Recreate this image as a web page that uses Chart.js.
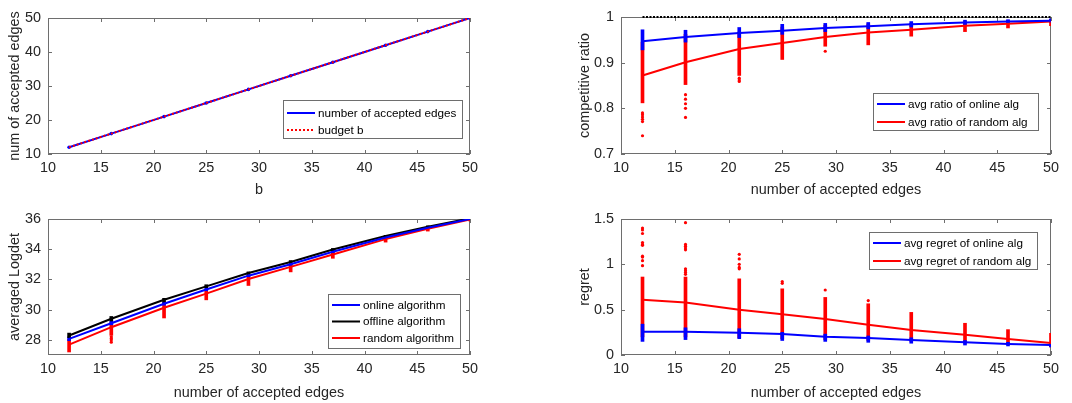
<!DOCTYPE html>
<html>
<head>
<meta charset="utf-8">
<script src="https://cdn.jsdelivr.net/npm/chart.js@4.4.0/dist/chart.umd.min.js"></script>
<style>
html, body { margin: 0; padding: 0; background: #fff; }
#wrap { position: relative; width: 1072px; height: 403px; overflow: hidden; }
canvas { position: absolute; }
</style>
</head>
<body>
<div id="wrap">
  <canvas id="c1" width="540" height="200" style="left:0;top:0"></canvas>
  <canvas id="c2" width="532" height="200" style="left:540px;top:0"></canvas>
  <canvas id="c3" width="540" height="203" style="left:0;top:200px"></canvas>
  <canvas id="c4" width="532" height="203" style="left:540px;top:200px"></canvas>
</div>
<script>
// x values shared by all four panels
var edgeCounts = [12, 16, 21, 25, 29, 33, 37, 42, 46, 50];

// panel 1: accepted edges vs budget
var budgetB = [12, 16, 21, 25, 29, 33, 37, 42, 46, 50];
var acceptedEdges = [12, 16, 21, 25, 29, 33, 37, 42, 46, 50];

// panel 2: competitive ratio
var ratioOffline = [1, 1, 1, 1, 1, 1, 1, 1, 1, 1];
var ratioOnline = [0.947, 0.956, 0.965, 0.970, 0.976, 0.980, 0.984, 0.988, 0.990, 0.992];
var ratioRandom = [0.872, 0.901, 0.930, 0.943, 0.956, 0.966, 0.972, 0.981, 0.985, 0.990];
var ratioOnlineSpread = [[0.928, 0.972], [0.945, 0.971], [0.955, 0.977], [0.962, 0.984], [0.968, 0.986],
  [0.974, 0.988], [0.978, 0.990], [0.983, 0.993], [0.986, 0.994], [0.988, 0.996]];
var ratioRandomSpread = [[0.812, 0.945], [0.852, 0.962], [0.872, 0.967], [0.907, 0.978], [0.936, 0.982],
  [0.939, 0.985], [0.958, 0.986], [0.968, 0.990], [0.976, 0.993], [0.981, 0.995]];
var ratioRandomOutliers = [[12, 0.790], [12, 0.786], [12, 0.781], [12, 0.776], [12, 0.771], [12, 0.740],
  [16, 0.830], [16, 0.820], [16, 0.810], [16, 0.800], [16, 0.780],
  [21, 0.866], [21, 0.862], [21, 0.859], [29, 0.925]];

// panel 3: averaged logdet
var logdetOnline = [28.07, 29.10, 30.39, 31.33, 32.25, 33.00, 33.83, 34.77, 35.42, 36.00];
var logdetOffline = [28.29, 29.40, 30.66, 31.54, 32.43, 33.16, 33.98, 34.87, 35.49, 36.04];
var logdetRandom = [27.69, 28.84, 30.13, 31.06, 32.03, 32.83, 33.65, 34.67, 35.36, 35.97];
var logdetOfflineSpread = [[28.15, 28.45], [29.25, 29.55], [30.50, 30.75], [31.45, 31.65], [32.35, 32.50],
  [33.10, 33.25], [33.90, 34.05], [34.80, 34.92], [35.45, 35.55], [36.00, 36.10]];
var logdetOnlineSpread = [[27.95, 28.20], [29.00, 29.25], [30.30, 30.50], [31.25, 31.42], [32.18, 32.33],
  [32.93, 33.08], [33.77, 33.90], [34.72, 34.82], [35.38, 35.47], [35.97, 36.03]];
var logdetRandomSpread = [[27.20, 28.05], [28.30, 29.15], [29.45, 30.45], [30.65, 31.30], [31.60, 32.25],
  [32.50, 33.00], [33.40, 33.85], [34.47, 34.80], [35.20, 35.45], [35.88, 36.02]];
var logdetRandomOutliers = [[16, 28.20], [16, 28.10], [16, 28.00], [16, 27.85]];

// panel 4: regret
var regretOnline = [0.257, 0.257, 0.246, 0.231, 0.200, 0.187, 0.165, 0.140, 0.121, 0.110];
var regretRandom = [0.610, 0.580, 0.500, 0.450, 0.397, 0.334, 0.276, 0.224, 0.176, 0.132];
var regretOnlineSpread = [[0.15, 0.34], [0.17, 0.30], [0.18, 0.29], [0.16, 0.25], [0.15, 0.23],
  [0.14, 0.21], [0.13, 0.19], [0.11, 0.16], [0.10, 0.14], [0.09, 0.13]];
var regretRandomSpread = [[0.20, 0.86], [0.20, 0.86], [0.19, 0.84], [0.18, 0.73], [0.17, 0.635],
  [0.16, 0.565], [0.15, 0.47], [0.13, 0.35], [0.12, 0.28], [0.09, 0.24]];
var regretRandomOutliers = [[12, 0.985], [12, 1.04], [12, 1.08], [12, 1.09], [12, 1.21], [12, 1.22],
  [12, 1.24], [12, 1.34], [12, 1.38], [12, 1.40],
  [16, 0.89], [16, 0.91], [16, 0.93], [16, 0.95], [16, 1.16], [16, 1.18], [16, 1.20], [16, 1.22], [16, 1.46],
  [21, 0.95], [21, 0.966], [21, 1.00], [21, 1.06], [21, 1.11],
  [25, 0.79], [25, 0.81], [29, 0.717], [33, 0.60]];

// tick labels
var xTicks = [10, 15, 20, 25, 30, 35, 40, 45, 50];
var yTicksAccepted = [10, 20, 30, 40, 50];
var yTicksRatio = [0.7, 0.8, 0.9, 1];
var yTicksLogdet = [28, 30, 32, 34, 36];
var yTicksRegret = [0, 0.5, 1, 1.5];

var FONT = '"Liberation Sans", Arial, Helvetica, sans-serif';
var TXT = '#262626';
var AXIS = '#6e6e6e';

function pts(xs, ys) {
  return xs.map(function (x, i) { return {x: x, y: ys[i]}; });
}
function lineSet(label, ys, color, order, extra) {
  var d = {label: label, data: pts(edgeCounts, ys), showLine: true, borderColor: color,
    backgroundColor: color, borderWidth: 2, pointRadius: 0, order: order};
  return Object.assign(d, extra || {});
}
function spreadSet(ranges, color, order) {
  return {type: 'bar', data: pts(edgeCounts, ranges), backgroundColor: color, borderWidth: 0,
    barThickness: 3, grouped: false, order: order};
}
function dotSet(pairs, color, order) {
  return {type: 'scatter', data: pairs.map(function (p) { return {x: p[0], y: p[1]}; }),
    pointRadius: 1.6, pointBorderWidth: 0, pointBackgroundColor: color, showLine: false, order: order};
}

// box + inward ticks like matlab
var frame = {
  id: 'frame',
  beforeDatasetsDraw: function (chart) {
    var ctx = chart.ctx, a = chart.chartArea, x = chart.scales.x, y = chart.scales.y;
    ctx.save();
    ctx.strokeStyle = AXIS;
    ctx.lineWidth = 1;
    ctx.strokeRect(Math.round(a.left) + 0.5, Math.round(a.top) + 0.5,
      Math.round(a.right - a.left) - 1, Math.round(a.bottom - a.top) - 1);
    ctx.beginPath();
    x.ticks.forEach(function (t) {
      var px = Math.round(x.getPixelForValue(t.value)) + 0.5;
      ctx.moveTo(px, a.bottom); ctx.lineTo(px, a.bottom - 4);
      ctx.moveTo(px, a.top); ctx.lineTo(px, a.top + 4);
    });
    y.ticks.forEach(function (t) {
      var py = Math.round(y.getPixelForValue(t.value)) + 0.5;
      ctx.moveTo(a.left, py); ctx.lineTo(a.left + 4, py);
      ctx.moveTo(a.right, py); ctx.lineTo(a.right - 4, py);
    });
    ctx.stroke();
    ctx.restore();
  }
};

// legend box inside the axes
var boxLegend = {
  id: 'boxLegend',
  afterDraw: function (chart, args, o) {
    var ctx = chart.ctx;
    var items = chart.data.datasets.filter(function (d) { return d.label; });
    ctx.save();
    ctx.fillStyle = '#fff';
    ctx.fillRect(o.left, o.top, o.width, o.height);
    ctx.strokeStyle = AXIS;
    ctx.lineWidth = 1;
    ctx.strokeRect(o.left + 0.5, o.top + 0.5, o.width, o.height);
    ctx.font = '11.7px ' + FONT;
    ctx.textBaseline = 'middle';
    items.forEach(function (d, i) {
      var yy = o.top + o.firstRow + i * o.rowGap;
      ctx.strokeStyle = d.borderColor;
      ctx.lineWidth = 2;
      ctx.setLineDash(d.borderDash || []);
      ctx.beginPath();
      ctx.moveTo(o.left + 4, yy);
      ctx.lineTo(o.left + 32, yy);
      ctx.stroke();
      ctx.setLineDash([]);
      ctx.fillStyle = '#000';
      ctx.fillText(d.label, o.left + 35, yy + 0.5);
    });
    ctx.restore();
  }
};

function buildOptions(c) {
  var font = {family: FONT, size: 14.4};
  return {
    responsive: false,
    animation: false,
    events: [],
    layout: {padding: {top: c.area.top, right: c.W - c.area.right, left: 0, bottom: 0}},
    plugins: {legend: {display: false}, tooltip: {enabled: false}, boxLegend: c.legend},
    scales: {
      x: {
        type: 'linear', min: 10, max: 50, offset: false,
        afterFit: function (s) { s.height = c.H - c.area.bottom; },
        afterBuildTicks: function (s) { s.ticks = xTicks.map(function (v) { return {value: v}; }); },
        grid: {display: false, drawTicks: false, offset: false}, border: {display: false},
        ticks: {font: font, color: TXT, padding: 5, maxRotation: 0, autoSkip: false,
          callback: function (v) { return String(v); }},
        title: {display: true, text: c.xTitle, font: font, color: TXT, padding: {top: 0, bottom: 1}}
      },
      y: {
        type: 'linear', min: c.yMin, max: c.yMax,
        afterFit: function (s) { s.width = c.area.left; },
        afterBuildTicks: function (s) { s.ticks = c.yTicks.map(function (v) { return {value: v}; }); },
        grid: {display: false, drawTicks: false}, border: {display: false},
        ticks: {font: font, color: TXT, padding: 7, autoSkip: false,
          callback: function (v) { return String(v); }},
        title: {display: true, text: c.yTitle, font: font, color: TXT, padding: {top: c.yTitlePad, bottom: 0}}
      }
    }
  };
}

Chart.register(frame, boxLegend);

// top left
new Chart(document.getElementById('c1'), {
  type: 'scatter',
  data: {
    datasets: [
      {label: 'number of accepted edges', data: pts(budgetB, acceptedEdges), showLine: true,
        borderColor: '#0000ff', backgroundColor: '#0000ff', borderWidth: 2, pointRadius: 1.8,
        pointBorderWidth: 0, order: 1},
      {label: 'budget b', data: pts(budgetB, budgetB), showLine: true, borderColor: '#ff0000',
        borderWidth: 2, borderDash: [2, 2], pointRadius: 0, order: 0}
    ]
  },
  options: buildOptions({W: 540, H: 200, area: {left: 48, right: 470, top: 18, bottom: 154},
    xTitle: 'b', yTitle: 'num of accepted edges', yTitlePad: 6, yMin: 10, yMax: 50, yTicks: yTicksAccepted,
    legend: {left: 283, top: 100, width: 179, height: 38, firstRow: 13, rowGap: 17}})
});

// top right
new Chart(document.getElementById('c2'), {
  type: 'scatter',
  data: {
    datasets: [
      lineSet('avg ratio of online alg', ratioOnline, '#0000ff', 0),
      lineSet('avg ratio of random alg', ratioRandom, '#ff0000', 0),
      lineSet('', ratioOffline, '#000000', 0, {borderDash: [2, 1.5], clip: false}),
      spreadSet(ratioOnlineSpread, '#0000ff', 1),
      spreadSet(ratioRandomSpread, '#ff0000', 2),
      dotSet(ratioRandomOutliers, '#ff0000', 2)
    ]
  },
  options: buildOptions({W: 532, H: 200, area: {left: 81, right: 511, top: 17, bottom: 154},
    xTitle: 'number of accepted edges', yTitle: 'competitive ratio', yTitlePad: 36,
    yMin: 0.7, yMax: 1, yTicks: yTicksRatio,
    legend: {left: 333, top: 93, width: 165, height: 37, firstRow: 11, rowGap: 18}})
});

// bottom left
new Chart(document.getElementById('c3'), {
  type: 'scatter',
  data: {
    datasets: [
      lineSet('online algorithm', logdetOnline, '#0000ff', 0),
      lineSet('offline algorithm', logdetOffline, '#000000', 0),
      lineSet('random algorithm', logdetRandom, '#ff0000', 0),
      spreadSet(logdetOfflineSpread, '#000000', 1),
      spreadSet(logdetOnlineSpread, '#0000ff', 2),
      spreadSet(logdetRandomSpread, '#ff0000', 3),
      dotSet(logdetRandomOutliers, '#ff0000', 3)
    ]
  },
  options: buildOptions({W: 540, H: 203, area: {left: 48, right: 470, top: 19, bottom: 155},
    xTitle: 'number of accepted edges', yTitle: 'averaged Logdet', yTitlePad: 6,
    yMin: 27, yMax: 36, yTicks: yTicksLogdet,
    legend: {left: 328, top: 94, width: 132, height: 54, firstRow: 11, rowGap: 16.5}})
});

// bottom right
new Chart(document.getElementById('c4'), {
  type: 'scatter',
  data: {
    datasets: [
      lineSet('avg regret of online alg', regretOnline, '#0000ff', 0),
      lineSet('avg regret of random alg', regretRandom, '#ff0000', 0),
      spreadSet(regretOnlineSpread, '#0000ff', 1),
      spreadSet(regretRandomSpread, '#ff0000', 2),
      dotSet(regretRandomOutliers, '#ff0000', 2)
    ]
  },
  options: buildOptions({W: 532, H: 203, area: {left: 81, right: 511, top: 19, bottom: 155},
    xTitle: 'number of accepted edges', yTitle: 'regret', yTitlePad: 36,
    yMin: 0, yMax: 1.5, yTicks: yTicksRegret,
    legend: {left: 329, top: 32, width: 168, height: 37, firstRow: 11, rowGap: 18}})
});
</script>
</body>
</html>
